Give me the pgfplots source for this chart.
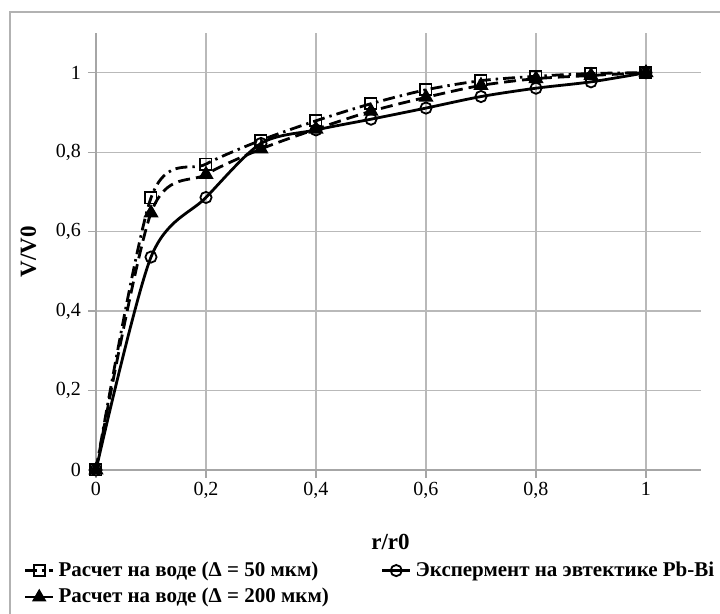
\documentclass[border=0pt]{standalone}
\usepackage{pgfplots}
\pgfplotsset{compat=1.18}
\usepackage{fontspec}
\setmainfont{Liberation Serif}
\begin{document}
\begin{tikzpicture}
\useasboundingbox (0,0) rectangle (360pt,307pt);
\draw[gray!60, line width=0.6pt] (5pt,0) -- (5pt,301pt) -- (360pt,301pt);
\begin{axis}[
  at={(48pt,72pt)}, anchor=south west,
  width=302.5pt, height=218.5pt, scale only axis,
  xmin=0, xmax=1.1, ymin=0, ymax=1.1,
  xtick={0,0.2,0.4,0.6,0.8,1}, ytick={0,0.2,0.4,0.6,0.8,1},
  axis lines*=left,
  axis line style={gray!70, line width=0.6pt},
  grid=major, major grid style={gray!55, line width=0.6pt},
  tick align=outside, major tick length=4pt,
  tick style={gray!70, line width=0.6pt},
  /pgf/number format/use comma,
  /pgf/number format/assume math mode=true,
  ticklabel style={font=\fontsize{10}{12}\selectfont, black},
  xticklabel style={yshift=1.5pt},
  xlabel={\textbf{r/r0}}, ylabel={\textbf{V/V0}},
  label style={font=\fontsize{11.5}{13}\selectfont},
  xlabel style={yshift=-11pt, xshift=-4pt},
  ylabel style={yshift=3pt},
  legend columns=2,
  legend image code/.code={%
    \draw[mark repeat=2,mark phase=2] plot coordinates {(0cm,0cm) (0.25cm,0cm) (0.5cm,0cm)};},
  legend image post style={line width=1.2pt},
  legend style={at={(-0.12,-0.20)}, anchor=north west, draw=none, fill=none,
    font=\bfseries\fontsize{10.5}{12.5}\selectfont, row sep=0.5pt,
    /tikz/every odd column/.append style={column sep=0pt},
    /tikz/every even column/.append style={column sep=24pt},
    inner sep=0pt},
  legend cell align=left,
]
\addplot[black, line width=1.4pt, smooth, tension=0.5,
  dash pattern=on 6pt off 2.5pt on 1.2pt off 2.5pt,
  mark=square, mark size=2.8pt, mark options={solid, fill=white, line width=0.9pt}]
coordinates {(0,0)(0.1,0.685)(0.2,0.77)(0.3,0.83)(0.4,0.879)(0.5,0.922)(0.6,0.957)(0.7,0.98)(0.8,0.991)(0.9,0.998)(1,1)};
\addlegendentry{Расчет на воде (Δ = 50 мкм)}
\addplot[black, line width=1.4pt, smooth, tension=0.5,
  mark=o, mark size=2.8pt, mark options={solid, fill=white, line width=0.9pt}]
coordinates {(0,0)(0.1,0.536)(0.2,0.686)(0.3,0.822)(0.4,0.856)(0.5,0.883)(0.6,0.911)(0.7,0.94)(0.8,0.961)(0.9,0.977)(1,1)};
\addlegendentry{Экспермент на эвтектике Pb-Bi}
\addplot[black, line width=1.4pt, smooth, tension=0.5,
  dash pattern=on 6pt off 3pt,
  mark=triangle*, mark size=3pt, mark options={solid, fill=black}]
coordinates {(0,0)(0.1,0.647)(0.2,0.744)(0.3,0.808)(0.4,0.858)(0.5,0.903)(0.6,0.938)(0.7,0.968)(0.8,0.985)(0.9,0.993)(1,1)};
\addlegendentry{Расчет на воде (Δ = 200 мкм)}
\end{axis}
\end{tikzpicture}
\end{document}
